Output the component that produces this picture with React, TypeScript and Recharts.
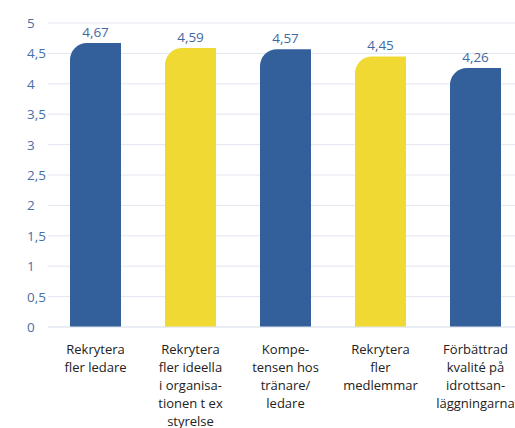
import { Bar, BarChart, CartesianGrid, Cell, LabelList, XAxis, YAxis } from 'recharts'

const categories = [
  'Rekrytera\nfler ledare',
  'Rekrytera\nfler ideella\ni organisa-\ntionen t ex\nstyrelse',
  'Kompe-\ntensen hos\ntränare/\nledare',
  'Rekrytera\nfler\nmedlemmar',
  'Förbättrad\nkvalité på\nidrottsan-\nläggningarna',
]
const values = [4.67, 4.59, 4.57, 4.45, 4.26]
const barColors = ['#33609b', '#efd932', '#33609b', '#efd932', '#33609b']
const yTicks = [0, 0.5, 1, 1.5, 2, 2.5, 3, 3.5, 4, 4.5, 5]

const data = categories.map((name, i) => ({ name, value: values[i] }))

const font = '"Open Sans", sans-serif'
const comma = (v: number) => String(v).replace('.', ',')

function XTick({ x, y, payload }: any) {
  const lines = String(payload.value).split('\n')
  return (
    <text x={x} y={y} textAnchor="middle" fill="#222" fontSize={13} fontFamily={font}>
      {lines.map((l, i) => (
        <tspan key={i} x={x} dy={i === 0 ? 18.5 : 18.2}>
          {l}
        </tspan>
      ))}
    </text>
  )
}

function YTick({ y, payload }: any) {
  return (
    <text x={27} y={y} dy={5} textAnchor="start" fill="#4a6fa6" fontSize={13.5} fontFamily={font}>
      {comma(payload.value)}
    </text>
  )
}

export default function App() {
  return (
    <div style={{ position: 'fixed', left: 0, top: 0, width: 515, height: 428, overflow: 'hidden', background: '#fff' }}>
      <BarChart width={523} height={428} data={data} margin={{ left: 0, right: 0, top: 23, bottom: 0 }}>
        <CartesianGrid stroke="#e3e6ef" vertical={false} />
        <XAxis dataKey="name" axisLine={{ stroke: '#e3e6ef' }} tickLine={false} height={101} interval={0} tick={<XTick />} />
        <YAxis domain={[0, 5]} ticks={yTicks} width={48} axisLine={false} tickLine={false} tick={<YTick />} />
        <Bar dataKey="value" barSize={51} radius={[17, 0, 0, 0]} isAnimationActive={false}>
          {data.map((d, i) => (
            <Cell key={d.name} fill={barColors[i]} />
          ))}
          <LabelList
            dataKey="value"
            position="top"
            offset={6}
            formatter={(v: any) => comma(Number(v))}
            style={{ fill: '#3f68a3', fontSize: 13.5, fontFamily: font }}
          />
        </Bar>
      </BarChart>
    </div>
  )
}
